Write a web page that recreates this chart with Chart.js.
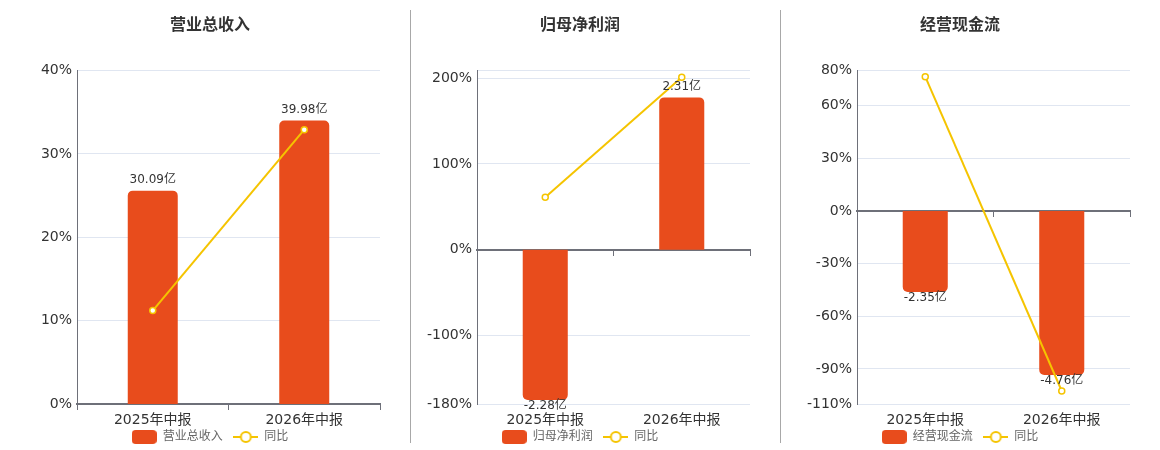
<!DOCTYPE html>
<html lang="zh">
<head>
<meta charset="UTF-8" />
<title>财务概览</title>
<script src="https://cdn.jsdelivr.net/npm/chart.js"></script>
<style>
  body {
    margin: 0;
    width: 1160px;
    height: 450px;
    background: #fff;
    font-family: "DejaVu Sans", "Noto Sans CJK SC", sans-serif;
    position: relative;
    overflow: hidden;
  }
  .panel {
    position: absolute;
    top: 0;
    height: 450px;
  }
  .titulo {
    position: absolute;
    top: 13px;
    width: 200px;
    margin-left: -100px;
    text-align: center;
    font-size: 16px;
    line-height: 20px;
    font-weight: bold;
    color: #333;
    font-family: "Noto Sans CJK SC", sans-serif;
  }
  .sep {
    position: absolute;
    top: 10px;
    height: 433px;
    width: 1px;
    background: #a8a8a8;
  }
</style>
</head>
<body>
  <div class="panel" style="left:0;width:420px"><canvas id="chartRevenue"></canvas></div>
  <div class="panel" style="left:400px;width:360px"><canvas id="chartProfit"></canvas></div>
  <div class="panel" style="left:780px;width:360px"><canvas id="chartCash"></canvas></div>

  <div class="titulo" style="left:210px">营业总收入</div>
  <div class="titulo" style="left:580px">归母净利润</div>
  <div class="titulo" style="left:960px">经营现金流</div>

  <div class="sep" style="left:410px"></div>
  <div class="sep" style="left:780px"></div>

<script>
const categories = ["2025年中报", "2026年中报"];

// 营业总收入 (亿) 与 同比 (%)
const revenueValues = [30.09, 39.98];
const revenueYoy = [11.2, 32.9];
const revenueTicks = [0, 10, 20, 30, 40];

// 归母净利润
const profitValues = [-2.28, 2.31];
const profitYoy = [61.3, 201];
const profitTicks = [-180, -100, 0, 100, 200];

// 经营现金流
const cashValues = [-2.35, -4.76];
const cashYoy = [76.5, -102.6];
const cashTicks = [-110, -90, -60, -30, 0, 30, 60, 80];

const BAR_COLOR = "#e84c1c";
const LINE_COLOR = "#f5c400";
const AXIS_COLOR = "#6e7079";
const GRID_COLOR = "#e0e6f1";

Chart.defaults.font.family = '"DejaVu Sans", "Noto Sans CJK SC", sans-serif';
Chart.defaults.color = "#333";

// iconos de la leyenda
function iconoBarra() {
  const c = document.createElement("canvas");
  c.width = 25; c.height = 14;
  const g = c.getContext("2d");
  g.fillStyle = BAR_COLOR;
  g.beginPath();
  g.roundRect(0, 0, 25, 14, 4);
  g.fill();
  return c;
}
function iconoLinea() {
  const c = document.createElement("canvas");
  c.width = 25; c.height = 14;
  const g = c.getContext("2d");
  g.strokeStyle = LINE_COLOR;
  g.lineWidth = 2;
  g.beginPath();
  g.moveTo(0, 7); g.lineTo(25, 7);
  g.stroke();
  g.beginPath();
  g.arc(12.5, 7, 5, 0, Math.PI * 2);
  g.fillStyle = "#fff";
  g.fill();
  g.stroke();
  return c;
}
const ICONS = [iconoBarra(), iconoLinea()];

const etiquetas = {
  id: "etiquetas",
  afterDatasetsDraw(chart) {
    const meta = chart.getDatasetMeta(0);
    const vals = chart.data.datasets[0].data;
    const ctx = chart.ctx;
    ctx.save();
    ctx.font = '12px "DejaVu Sans", "Noto Sans CJK SC", sans-serif';
    ctx.fillStyle = "#333";
    ctx.textAlign = "center";
    ctx.textBaseline = "middle";
    meta.data.forEach((el, i) => {
      const v = vals[i];
      const y = v >= 0 ? el.y - 11 : el.y + 6;
      ctx.fillText(v.toFixed(2) + "亿", el.x, y);
    });
    ctx.restore();
  }
};

function makeChart(id, name, values, yoy, ticks, min, max, padRight) {
  // eje oculto de las barras, alineado en cero con el de porcentajes
  const maxAbsBar = Math.max(...values.map(Math.abs));
  const maxAbsPct = Math.max(Math.abs(min), Math.abs(max));
  const r = maxAbsBar / (0.85 * maxAbsPct);

  new Chart(document.getElementById(id), {
    type: "bar",
    data: {
      labels: categories,
      datasets: [
        {
          type: "bar",
          label: name,
          data: values,
          backgroundColor: BAR_COLOR,
          borderRadius: 5,
          borderSkipped: "start",
          barPercentage: 0.66,
          categoryPercentage: 0.5,
          xAxisID: "x",
          yAxisID: "yb",
          order: 2
        },
        {
          type: "line",
          label: "同比",
          data: yoy,
          borderColor: LINE_COLOR,
          borderWidth: 2,
          pointRadius: 3,
          pointBorderWidth: 1.5,
          pointBackgroundColor: "#fff",
          pointBorderColor: LINE_COLOR,
          tension: 0,
          xAxisID: "x",
          yAxisID: "y",
          order: 1
        }
      ]
    },
    options: {
      responsive: true,
      maintainAspectRatio: false,
      animation: false,
      layout: { padding: { top: 70.5, right: 0, left: 0, bottom: 0 } },
      plugins: {
        tooltip: { enabled: false },
        legend: {
          position: "bottom",
          maxHeight: 22,
          labels: {
            usePointStyle: true,
            pointStyleWidth: 25,
            boxHeight: 14,
            padding: 3,
            color: "#666",
            font: { size: 12 },
            sort: (a, b) => a.datasetIndex - b.datasetIndex,
            generateLabels(chart) {
              const items = Chart.defaults.plugins.legend.labels.generateLabels(chart);
              items.forEach(it => {
                it.pointStyle = ICONS[it.datasetIndex];
                if (it.datasetIndex === 0) it.text = it.text + "  ";
              });
              return items;
            }
          },
          onClick: () => {}
        }
      },
      scales: {
        x: {
          type: "category",
          offset: true,
          position: { y: 0 },
          border: { color: AXIS_COLOR, width: 2 },
          grid: {
            offset: true,
            drawOnChartArea: false,
            drawTicks: true,
            tickLength: 5,
            color: AXIS_COLOR
          },
          ticks: { display: false },
          afterFit: s => { s.height = 0; }
        },
        xl: {
          type: "category",
          offset: true,
          position: "bottom",
          grid: { display: false, drawTicks: false },
          border: { display: false },
          ticks: { padding: 8, color: "#333", font: { size: 14 } },
          afterFit: s => { s.height = 24; }
        },
        y: {
          position: "left",
          min: min,
          max: max,
          border: { color: AXIS_COLOR, width: 1 },
          grid: { color: GRID_COLOR, drawTicks: false },
          afterBuildTicks: s => {
            const t = ticks.slice();
            if (t.indexOf(max) < 0) t.push(max);
            s.ticks = t.map(v => ({ value: v }));
          },
          ticks: {
            padding: 5,
            color: "#333",
            font: { size: 14 },
            callback: v => (ticks.indexOf(v) >= 0 ? v + "%" : "")
          },
          afterFit: s => { s.width = 77; }
        },
        // eje de las barras: invisible, solo reserva el margen derecho
        yb: {
          position: "right",
          min: min * r,
          max: max * r,
          grid: { display: false, drawTicks: false },
          border: { display: false },
          ticks: { display: false },
          afterFit: s => { s.width = padRight; }
        }
      }
    },
    plugins: [etiquetas]
  });
}

makeChart("chartRevenue", "营业总收入", revenueValues, revenueYoy, revenueTicks, 0, 40, 40);
makeChart("chartProfit", "归母净利润", profitValues, profitYoy, profitTicks, -180, 209, 10);
makeChart("chartCash", "经营现金流", cashValues, cashYoy, cashTicks, -110, 80, 10);
</script>
</body>
</html>
